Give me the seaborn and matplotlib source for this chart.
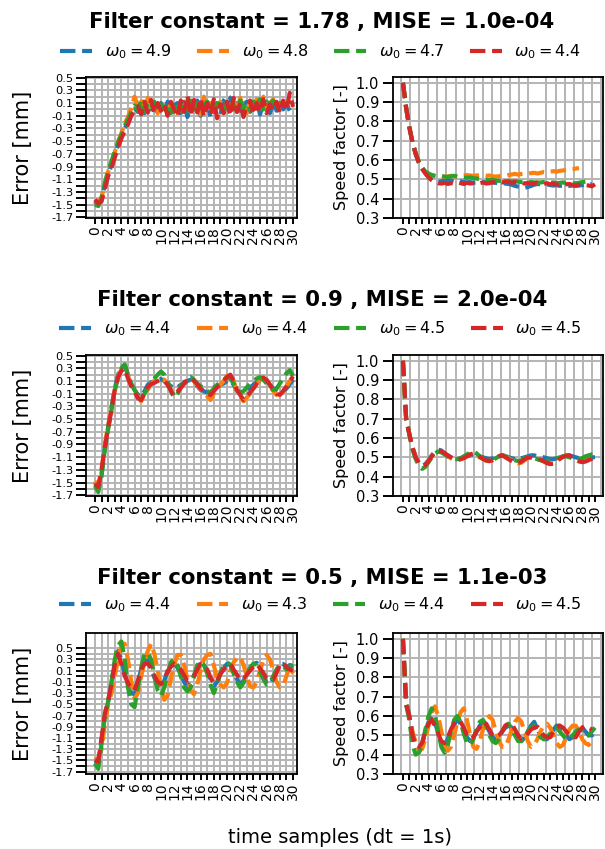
import matplotlib
matplotlib.use("Agg")
import matplotlib.pyplot as plt
from matplotlib.lines import Line2D
import numpy as np
import pandas as pd
import seaborn as sns

DT = 0.5  # logging step of the series (time samples)

TITLES = [
    "Filter constant = 1.78 , MISE = 1.0e-04",
    "Filter constant = 0.9 , MISE = 2.0e-04",
    "Filter constant = 0.5 , MISE = 1.1e-03",
]
OMEGA = [
    ["4.9", "4.8", "4.7", "4.4"],
    ["4.4", "4.4", "4.5", "4.5"],
    ["4.4", "4.3", "4.4", "4.5"],
]

# ---- row 1 : filter constant 1.78 ----
err1_blue = [-1.45, -1.52, -1.4, -1.2, -1.02, -0.88, -0.72, -0.56, -0.43, -0.3, -0.2, -0.08, 0.02, -0.04, 0.1,
             -0.06, 0.12, 0.0, 0.08, -0.1, 0.1, -0.04, 0.12, -0.08, 0.06, 0.1, -0.06, 0.12, -0.12, 0.08,
             0.0, 0.14, -0.1, 0.06, 0.12, -0.12, 0.04, 0.1, -0.08, 0.14, 0.22, 0.18, -0.06, 0.1, -0.1,
             0.08, 0.12, -0.04, 0.06, 0.14, -0.08, 0.1, 0.02, -0.06, 0.1, -0.02, 0.12, 0.0, 0.08, -0.02]
err1_orange = [-1.44, -1.46, -1.38, -1.18, -0.98, -0.84, -0.68, -0.5, -0.38, -0.22, -0.12, 0.02, 0.2, 0.06,
               0.16, -0.02, 0.18, 0.04, 0.1, -0.06, 0.12, 0.02, -0.04, 0.1, 0.06, -0.06, 0.12, 0.0, 0.18,
               -0.04, 0.1, 0.06, -0.08, 0.2, -0.02, 0.1, -0.1, 0.06, 0.12, -0.04, 0.1, 0.0, 0.14, -0.02,
               0.18, 0.02, -0.06, 0.12, 0.04, 0.16, -0.04, 0.2, 0.02, 0.1, 0.16, 0.06]
err1_green = [-1.5, -1.52, -1.4, -1.16, -0.96, -0.82, -0.66, -0.52, -0.4, -0.26, -0.16, -0.04, 0.06, -0.02,
              0.14, -0.04, 0.1, 0.02, 0.12, -0.04, 0.08, 0.0, 0.1, -0.06, 0.12, 0.04, -0.04, 0.1, -0.02,
              0.14, 0.0, 0.1, -0.06, 0.08, 0.12, 0.02, -0.04, 0.1, 0.06, -0.06, 0.12, 0.0, 0.08, -0.04,
              0.14, 0.02, 0.1, -0.02, 0.12, 0.06, 0.16, 0.0, 0.12, 0.08, 0.14, -0.02, 0.1, 0.06]
err1_red = [-1.42, -1.48, -1.45, -1.25, -1.05, -0.92, -0.76, -0.6, -0.46, -0.34, -0.24, -0.1, -0.02, 0.05,
            -0.08, 0.12, -0.05, 0.15, -0.06, 0.1, -0.02, 0.08, -0.1, 0.12, 0.0, -0.12, 0.14, -0.04, 0.22,
            -0.1, 0.15, -0.05, 0.18, -0.12, 0.1, -0.08, 0.16, -0.14, 0.08, -0.06, 0.12, -0.1, 0.18, -0.04,
            0.1, -0.12, 0.06, 0.14, -0.08, 0.1, -0.04, 0.16, -0.06, 0.08, -0.02, 0.12, -0.06, 0.14, -0.02,
            0.26, 0.04]

spd1_blue = [1.0, 0.87, 0.77, 0.69, 0.63, 0.585, 0.555, 0.535, 0.515, 0.5, 0.49, 0.486, 0.49, 0.494, 0.498,
             0.494, 0.49, 0.488, 0.49, 0.486, 0.484, 0.486, 0.482, 0.484, 0.488, 0.486, 0.484, 0.482, 0.484,
             0.482, 0.48, 0.482, 0.478, 0.476, 0.472, 0.466, 0.462, 0.458, 0.456, 0.46, 0.466, 0.472, 0.476,
             0.474, 0.472, 0.474, 0.47, 0.468, 0.47, 0.466, 0.468, 0.47, 0.466, 0.468, 0.466, 0.468, 0.47,
             0.472, 0.474, 0.476]
spd1_orange = [1.0, 0.87, 0.77, 0.69, 0.635, 0.59, 0.56, 0.54, 0.528, 0.52, 0.518, 0.515, 0.515, 0.512,
               0.515, 0.518, 0.516, 0.514, 0.518, 0.52, 0.522, 0.52, 0.518, 0.52, 0.522, 0.52, 0.518, 0.52,
               0.516, 0.514, 0.516, 0.52, 0.518, 0.522, 0.525, 0.528, 0.524, 0.528, 0.53, 0.528, 0.532,
               0.534, 0.53, 0.534, 0.538, 0.536, 0.54, 0.542, 0.54, 0.544, 0.546, 0.548, 0.55, 0.552, 0.556,
               0.558]
spd1_green = [1.0, 0.87, 0.77, 0.69, 0.635, 0.59, 0.56, 0.54, 0.53, 0.522, 0.518, 0.516, 0.518, 0.514, 0.512,
              0.516, 0.518, 0.514, 0.512, 0.51, 0.508, 0.51, 0.506, 0.504, 0.502, 0.5, 0.498, 0.496, 0.498,
              0.494, 0.492, 0.494, 0.49, 0.492, 0.488, 0.49, 0.488, 0.486, 0.488, 0.484, 0.486, 0.484, 0.482,
              0.484, 0.486, 0.484, 0.482, 0.484, 0.48, 0.482, 0.484, 0.48, 0.482, 0.478, 0.48, 0.482, 0.486,
              0.488]
spd1_red = [1.0, 0.87, 0.77, 0.69, 0.63, 0.585, 0.555, 0.53, 0.51, 0.495, 0.485, 0.48, 0.478, 0.482, 0.476,
            0.48, 0.478, 0.484, 0.48, 0.476, 0.482, 0.478, 0.48, 0.474, 0.48, 0.484, 0.478, 0.48, 0.486, 0.482,
            0.488, 0.484, 0.49, 0.486, 0.482, 0.486, 0.48, 0.484, 0.478, 0.482, 0.476, 0.48, 0.484, 0.478,
            0.476, 0.48, 0.474, 0.478, 0.472, 0.476, 0.47, 0.474, 0.476, 0.47, 0.468, 0.472, 0.466, 0.47,
            0.468, 0.464, 0.474]

# ---- row 2 : filter constant 0.9 ----
err2_blue = [-1.5, -1.6, -1.35, -0.95, -0.62, -0.32, -0.02, 0.2, 0.32, 0.35, 0.2, 0.05, -0.04, -0.12, -0.15,
             -0.06, 0.04, 0.08, 0.1, 0.12, 0.13, 0.1, 0.06, 0.02, -0.02, 0.0, 0.04, 0.06, 0.1, 0.12, 0.08,
             0.02, -0.04, -0.06, -0.08, -0.04, 0.0, 0.02, 0.04, 0.06, 0.1, 0.12, 0.04, -0.05, -0.1, -0.08,
             -0.04, 0.0, 0.04, 0.08, 0.1, 0.12, 0.1, 0.04, -0.02, -0.06, -0.08, -0.06, -0.02, 0.05, 0.12]
err2_orange = [-1.48, -1.55, -1.3, -0.9, -0.6, -0.34, -0.04, 0.18, 0.28, 0.3, 0.18, 0.04, -0.08, -0.15, -0.22,
               -0.1, -0.04, 0.06, 0.1, 0.12, 0.14, 0.12, 0.06, -0.04, -0.1, -0.06, 0.0, 0.06, 0.12, 0.16,
               0.1, 0.04, -0.04, -0.1, -0.14, -0.2, -0.1, -0.02, 0.04, 0.1, 0.18, 0.22, 0.1, -0.06, -0.14,
               -0.22, -0.16, -0.1, -0.02, 0.06, 0.12, 0.16, 0.12, 0.04, -0.06, -0.12, -0.14, -0.06, 0.02,
               0.1, 0.16]
err2_green = [-1.55, -1.65, -1.4, -0.98, -0.66, -0.36, -0.06, 0.16, 0.3, 0.36, 0.2, 0.06, -0.04, -0.12, -0.16,
              -0.1, 0.0, 0.08, 0.14, 0.2, 0.25, 0.2, 0.1, -0.06, -0.16, -0.1, 0.0, 0.08, 0.14, 0.16, 0.12,
              0.06, 0.02, -0.02, -0.06, -0.08, -0.02, 0.04, 0.08, 0.12, 0.16, 0.14, 0.06, -0.04, -0.08, -0.06,
              0.0, 0.06, 0.1, 0.14, 0.16, 0.12, 0.06, 0.0, -0.04, -0.02, 0.06, 0.14, 0.22, 0.27, 0.18]
err2_red = [-1.52, -1.57, -1.3, -0.94, -0.64, -0.36, -0.04, 0.16, 0.26, 0.3, 0.14, 0.02, -0.06, -0.17, -0.2,
            -0.1, 0.01, 0.05, 0.07, 0.1, 0.12, 0.1, 0.04, -0.05, -0.14, -0.08, -0.01, 0.06, 0.12, 0.15, 0.1,
            0.05, -0.02, -0.06, -0.1, -0.12, -0.06, 0.0, 0.05, 0.1, 0.16, 0.2, 0.1, -0.04, -0.12, -0.2, -0.14,
            -0.08, -0.02, 0.06, 0.12, 0.15, 0.12, 0.04, -0.04, -0.1, -0.12, -0.06, 0.01, 0.1, 0.17]

spd2_blue = [1.0, 0.7, 0.62, 0.55, 0.5, 0.47, 0.455, 0.465, 0.485, 0.51, 0.53, 0.54, 0.535, 0.52, 0.51, 0.5,
             0.495, 0.49, 0.495, 0.5, 0.505, 0.51, 0.515, 0.51, 0.505, 0.5, 0.495, 0.49, 0.495, 0.505, 0.51,
             0.512, 0.505, 0.5, 0.495, 0.49, 0.49, 0.495, 0.5, 0.505, 0.51, 0.51, 0.505, 0.505, 0.5, 0.495,
             0.49, 0.49, 0.495, 0.5, 0.505, 0.51, 0.51, 0.505, 0.5, 0.495, 0.49, 0.49, 0.495, 0.5, 0.5]
spd2_orange = [1.0, 0.7, 0.62, 0.55, 0.5, 0.47, 0.455, 0.46, 0.48, 0.505, 0.525, 0.535, 0.53, 0.52, 0.505,
               0.495, 0.485, 0.485, 0.49, 0.5, 0.51, 0.515, 0.515, 0.51, 0.5, 0.49, 0.482, 0.48, 0.485, 0.495,
               0.505, 0.512, 0.505, 0.495, 0.485, 0.475, 0.468, 0.472, 0.485, 0.495, 0.5, 0.498, 0.49, 0.485,
               0.478, 0.47, 0.465, 0.47, 0.482, 0.495, 0.505, 0.51, 0.505, 0.495, 0.485, 0.478, 0.475, 0.48,
               0.488, 0.495, 0.5]
spd2_green = [1.0, 0.7, 0.62, 0.54, 0.49, 0.455, 0.44, 0.45, 0.475, 0.5, 0.52, 0.53, 0.525, 0.515, 0.505,
              0.495, 0.49, 0.49, 0.495, 0.505, 0.515, 0.525, 0.53, 0.52, 0.505, 0.495, 0.485, 0.48, 0.485,
              0.495, 0.505, 0.51, 0.505, 0.5, 0.49, 0.485, 0.48, 0.485, 0.495, 0.5, 0.5, 0.495, 0.49, 0.485,
              0.48, 0.48, 0.485, 0.49, 0.495, 0.5, 0.505, 0.505, 0.5, 0.495, 0.49, 0.49, 0.495, 0.505, 0.51,
              0.515, 0.515]
spd2_red = [1.0, 0.7, 0.62, 0.55, 0.5, 0.47, 0.455, 0.46, 0.48, 0.505, 0.525, 0.535, 0.532, 0.522, 0.51, 0.5,
            0.492, 0.488, 0.49, 0.495, 0.505, 0.515, 0.52, 0.512, 0.502, 0.492, 0.484, 0.48, 0.485, 0.495,
            0.505, 0.51, 0.5, 0.49, 0.48, 0.472, 0.47, 0.478, 0.49, 0.498, 0.5, 0.495, 0.49, 0.488, 0.48,
            0.47, 0.465, 0.466, 0.478, 0.492, 0.502, 0.508, 0.51, 0.5, 0.49, 0.48, 0.475, 0.478, 0.485,
            0.492, 0.5]

# ---- row 3 : filter constant 0.5 ----
err3_blue = [-1.5, -1.55, -1.15, -0.7, -0.45, -0.12, 0.25, 0.45, 0.3, 0.05, -0.15, -0.3, -0.32, -0.1, 0.12,
             0.3, 0.3, 0.15, -0.02, -0.18, -0.22, -0.08, 0.1, 0.22, 0.25, 0.15, 0.05, -0.1, -0.2, -0.12, 0.02,
             0.15, 0.25, 0.2, 0.1, -0.05, -0.18, -0.1, 0.05, 0.15, 0.22, 0.2, 0.1, -0.05, -0.15, -0.08, 0.05,
             0.15, 0.22, 0.24, 0.12, 0.0, -0.12, -0.15, -0.05, 0.1, 0.22, 0.22, 0.15, 0.2, 0.18]
err3_orange = [-1.5, -1.45, -1.3, -0.85, -0.5, -0.3, 0.0, 0.3, 0.55, 0.58, 0.3, -0.1, -0.4, -0.3, 0.0, 0.25,
               0.45, 0.58, 0.4, 0.1, -0.2, -0.42, -0.35, -0.05, 0.2, 0.38, 0.38, 0.2, -0.05, -0.25, -0.32,
               -0.15, 0.1, 0.3, 0.38, 0.4, 0.2, -0.05, -0.15, -0.2, -0.12, 0.1, 0.25, 0.32, 0.35, 0.2, 0.0,
               -0.18, -0.2, -0.1, 0.1, 0.28, 0.38, 0.3, 0.1, -0.1, -0.2, -0.18, 0.0, 0.18, 0.05]
err3_green = [-1.55, -1.65, -1.2, -0.7, -0.45, -0.1, 0.3, 0.55, 0.62, 0.3, -0.2, -0.5, -0.55, -0.2, 0.15, 0.4,
              0.42, 0.3, 0.0, -0.25, -0.35, -0.2, 0.05, 0.25, 0.3, 0.2, 0.0, -0.2, -0.27, -0.2, 0.0, 0.2, 0.27,
              0.2, 0.05, -0.15, -0.3, -0.15, 0.05, 0.2, 0.25, 0.2, 0.05, -0.1, -0.2, -0.12, 0.02, 0.15, 0.22,
              0.2, 0.08, -0.05, -0.15, -0.12, 0.0, 0.12, 0.2, 0.18, 0.12, 0.16, 0.2]
err3_red = [-1.49, -1.52, -1.1, -0.67, -0.43, -0.15, 0.2, 0.4, 0.22, 0.01, -0.12, -0.22, -0.25, -0.08, 0.12,
            0.22, 0.23, 0.15, 0.01, -0.1, -0.14, -0.05, 0.08, 0.17, 0.22, 0.18, 0.12, 0.02, -0.08, -0.06, 0.0,
            0.12, 0.22, 0.2, 0.12, -0.02, -0.13, -0.08, 0.04, 0.12, 0.18, 0.22, 0.12, 0.03, -0.07, -0.05, 0.03,
            0.1, 0.17, 0.22, 0.14, 0.06, -0.04, -0.07, -0.06, 0.06, 0.2, 0.24, 0.16, 0.12, 0.1]

spd3_blue = [1.0, 0.68, 0.6, 0.5, 0.44, 0.43, 0.46, 0.52, 0.57, 0.6, 0.57, 0.51, 0.46, 0.45, 0.48, 0.53, 0.56,
             0.58, 0.56, 0.52, 0.49, 0.47, 0.49, 0.52, 0.55, 0.57, 0.55, 0.52, 0.49, 0.48, 0.49, 0.52, 0.54,
             0.55, 0.54, 0.51, 0.48, 0.47, 0.49, 0.52, 0.55, 0.57, 0.53, 0.5, 0.48, 0.48, 0.5, 0.53, 0.55, 0.55,
             0.52, 0.5, 0.48, 0.49, 0.51, 0.53, 0.54, 0.52, 0.5, 0.5, 0.51]
spd3_orange = [1.0, 0.66, 0.6, 0.52, 0.46, 0.42, 0.43, 0.48, 0.55, 0.62, 0.65, 0.6, 0.52, 0.45, 0.42, 0.44, 0.5,
               0.57, 0.62, 0.64, 0.58, 0.5, 0.44, 0.43, 0.47, 0.53, 0.58, 0.6, 0.58, 0.52, 0.47, 0.44, 0.44,
               0.48, 0.53, 0.57, 0.59, 0.57, 0.52, 0.47, 0.44, 0.45, 0.48, 0.52, 0.55, 0.56, 0.54, 0.5, 0.46,
               0.44, 0.45, 0.49, 0.53, 0.55, 0.55, 0.52, 0.48, 0.46, 0.45, 0.47, 0.48]
spd3_green = [1.0, 0.66, 0.58, 0.45, 0.4, 0.41, 0.45, 0.53, 0.6, 0.64, 0.6, 0.52, 0.44, 0.41, 0.45, 0.52, 0.58,
              0.6, 0.57, 0.51, 0.46, 0.45, 0.48, 0.53, 0.57, 0.58, 0.55, 0.5, 0.47, 0.46, 0.48, 0.52, 0.55,
              0.56, 0.53, 0.5, 0.47, 0.47, 0.49, 0.52, 0.54, 0.55, 0.52, 0.49, 0.48, 0.49, 0.51, 0.53, 0.54,
              0.52, 0.5, 0.48, 0.48, 0.5, 0.52, 0.53, 0.52, 0.5, 0.5, 0.52, 0.54]
spd3_red = [1.0, 0.66, 0.6, 0.5, 0.45, 0.44, 0.46, 0.52, 0.56, 0.58, 0.55, 0.51, 0.47, 0.46, 0.49, 0.53, 0.56,
            0.58, 0.57, 0.54, 0.5, 0.48, 0.49, 0.52, 0.54, 0.57, 0.56, 0.53, 0.5, 0.49, 0.5, 0.52, 0.55, 0.56,
            0.56, 0.53, 0.5, 0.48, 0.49, 0.51, 0.53, 0.54, 0.545, 0.52, 0.5, 0.49, 0.49, 0.52, 0.54, 0.55,
            0.54, 0.52, 0.5, 0.49, 0.49, 0.52, 0.54, 0.55, 0.54, 0.53]

ERRORS = [
    [err1_blue, err1_orange, err1_green, err1_red],
    [err2_blue, err2_orange, err2_green, err2_red],
    [err3_blue, err3_orange, err3_green, err3_red],
]
SPEEDS = [
    [spd1_blue, spd1_orange, spd1_green, spd1_red],
    [spd2_blue, spd2_orange, spd2_green, spd2_red],
    [spd3_blue, spd3_orange, spd3_green, spd3_red],
]
ERR_YLIM = [(-1.71, 0.51), (-1.71, 0.51), (-1.74, 0.77)]

sns.set_theme(style="ticks")
plt.rcParams["font.family"] = ["DejaVu Sans"]
plt.rcParams.update({
    "axes.linewidth": 1.3, "axes.edgecolor": "black", "text.color": "black",
    "axes.labelcolor": "black", "xtick.color": "black", "ytick.color": "black",
})
colors = sns.color_palette("tab10", 4)
GRID = dict(color="#b4b4b4", linewidth=1.4)
LW = 3.0


def long_frame(series):
    frames = []
    for k, vals in enumerate(series):
        frames.append(pd.DataFrame({"t": np.arange(len(vals)) * DT, "v": vals, "run": k}))
    return pd.concat(frames, ignore_index=True)


def draw_lines(ax, series):
    data = long_frame(series)
    for k, color in enumerate(colors):
        sns.lineplot(data=data[data["run"] == k], x="t", y="v", ax=ax, color=color,
                     linestyle="--", linewidth=LW)


def style_x(ax, xlim):
    ax.set_xticks(np.arange(0, 31))
    ax.set_xticklabels([str(i) if i % 2 == 0 else "" for i in range(31)], rotation=90)
    ax.set_xlim(*xlim)
    ax.set_xlabel("")
    ax.tick_params(axis="x", labelsize=10, length=4, width=1.4, pad=2)


fig = plt.figure(figsize=(6.05, 8.49), dpi=100)
row_tops = [0.9093, 0.5819, 0.2544]
row_h = 0.166
title_y = [0.974, 0.647, 0.319]
legend_y = [0.939, 0.613, 0.288]

for r in range(3):
    bottom = row_tops[r] - row_h
    ax_e = fig.add_axes([0.1421, bottom, 0.3488, row_h])
    ax_s = fig.add_axes([0.6496, bottom, 0.3471, row_h])

    draw_lines(ax_e, ERRORS[r])
    yt = np.round(np.arange(-1.7, 0.51, 0.1), 1)
    ax_e.set_yticks(yt)
    ax_e.set_yticklabels([f"{v:.1f}" if round(v * 10) % 2 else "" for v in yt])
    ax_e.set_ylim(*ERR_YLIM[r])
    ax_e.tick_params(axis="y", labelsize=8.2, length=7, width=1.4, pad=2)
    style_x(ax_e, (-1.36, 30.6))
    ax_e.grid(True, **GRID)
    ax_e.set_ylabel("Error [mm]", fontsize=15, labelpad=13)

    draw_lines(ax_s, SPEEDS[r])
    ax_s.set_yticks(np.round(np.arange(0.3, 1.01, 0.1), 1))
    ax_s.set_ylim(0.3, 1.03)
    ax_s.tick_params(axis="y", labelsize=10.5, length=7, width=1.4, pad=3)
    style_x(ax_s, (-1.55, 31.25))
    ax_s.set_xticks(np.arange(-0.3, 31.3, 1.42), minor=True)
    ax_s.tick_params(axis="x", which="minor", length=0)
    ax_s.yaxis.grid(True, **GRID)
    ax_s.xaxis.grid(True, which="minor", **GRID)
    ax_s.set_ylabel("Speed factor [-]", fontsize=11.5, labelpad=5)

    fig.text(0.532, title_y[r], TITLES[r], ha="center", va="center", fontsize=15.3, fontweight="bold")
    handles = [Line2D([], [], color=c, linestyle="--", linewidth=LW) for c in colors]
    labels = [rf"$\omega_0 = {w}$" for w in OMEGA[r]]
    fig.legend(handles, labels, loc="center", bbox_to_anchor=(0.53, legend_y[r]), ncol=4, frameon=False,
               fontsize=11.5, handlelength=2.0, columnspacing=1.6, handletextpad=0.8, borderaxespad=0)

fig.text(0.562, 0.013, "time samples (dt = 1s)", ha="center", va="center", fontsize=14)
fig.savefig("out.png", dpi=100)
